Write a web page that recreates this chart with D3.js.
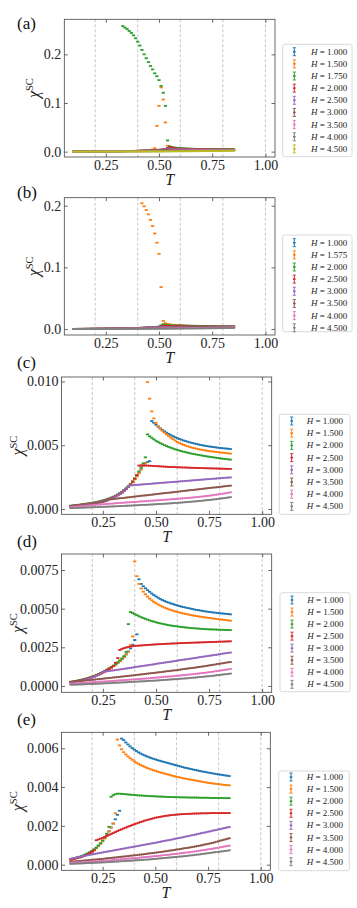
<!DOCTYPE html>
<html><head><meta charset="utf-8">
<script src="https://cdn.jsdelivr.net/npm/d3@7"></script>
<style>body{margin:0;background:#fff}svg{display:block}</style>
</head><body>
<svg id="fig" width="357" height="908"></svg>
<script>
// Temperature grid (shared by all panels)
const T = [0.10,0.11,0.12,0.13,0.14,0.15,0.16,0.17,0.18,0.19,
0.20,0.21,0.22,0.23,0.24,0.25,0.26,0.27,0.28,0.29,
0.30,0.31,0.32,0.33,0.34,0.35,0.36,0.37,0.38,0.39,
0.40,0.41,0.42,0.43,0.44,0.45,0.46,0.47,0.48,0.49,
0.50,0.51,0.52,0.53,0.54,0.55,0.56,0.57,0.58,0.59,
0.60,0.61,0.62,0.63,0.64,0.65,0.66,0.67,0.68,0.69,
0.70,0.71,0.72,0.73,0.74,0.75,0.76,0.77,0.78,0.79,
0.80,0.81,0.82,0.83,0.84,0.85];
// all chi^SC values below are given in units of 1e-4
const UNIT = 1e-4;
const COLORS = ["#1f77b4","#ff7f0e","#2ca02c","#d62728","#9467bd","#8c564b","#e377c2","#7f7f7f","#bcbd22"];
const X_TICKS = [0.25,0.50,0.75,1.00];
const GUIDE_T = [0.2,0.4,0.6,0.8,1.0];

// ---------- panel (a) ----------
const A_H = ["1.000","1.500","1.750","2.000","2.500","3.000","3.500","4.000","4.500"];
const A_H100 = [2.0,2.2,2.4,2.6,2.8,3.0,3.2,3.4,3.7,3.9, 4.2,4.5,4.8,5.1,5.5,5.9,6.3,6.8,7.3,7.8, 8.4,9.0,9.7,10.4,11.2,12.0,12.9,13.9,15.0,16.2, 17.5,18.9,20.4,22.0,23.8,25.7,27.8,30.0,32.4,35.0, 37.8,40.8,44.0,47.5,75.0,72.0,69.5,67.3,65.3,63.6, 62.0,60.6,59.3,58.1,57.0,56.0,55.1,54.3,53.5,52.8, 52.1,51.5,50.9,50.4,49.9,49.4,49.0,48.6,48.2,47.8, 47.5,47.2,46.9,46.6,46.3,46.0];
const A_H150 = [1.9,2.1,2.3,2.5,2.7,2.9,3.1,3.3,3.6,3.8, 4.1,4.4,4.7,5.0,5.4,5.8,6.2,6.7,7.2,7.7, 8.3,8.9,9.6,10.3,11.1,11.9,12.8,13.8,14.9,16.1, 17.4,18.8,20.3,21.9,23.7,25.6,27.7,45.0,70.0,530, 940,1320,1070,600,120,95,85,78,73,69, 66,63.5,61.5,59.8,58.3,57.0,55.8,54.7,53.7,52.8, 52.0,51.2,50.5,49.8,49.2,48.6,48.1,47.6,47.1,46.7, 46.3,45.9,45.6,45.2,44.9,44.6];
const A_H175 = [1.8,2.0,2.2,2.4,2.6,2.8,3.0,3.2,3.5,3.7, 4.0,4.3,4.6,4.9,5.3,5.7,6.1,6.6,7.1,7.6, 8.2,8.8,9.5,2580,2550,2520,2480,2440,2390,2330, 2260,2180,2090,2000,1920,1840,1760,1690,1610,1550, 1470,1350,1210,940,230,110,95,88,82,77, 73,70,67,65,63,61,59.5,58,56.8,55.6, 54.5,53.5,52.6,51.8,51.0,50.3,49.6,49.0,48.4,47.8, 47.3,46.8,46.3,45.9,45.5,45.1];
const A_H200 = [1.9,2.1,2.3,2.5,2.7,2.9,3.1,3.3,3.6,3.8, 4.1,4.4,4.7,5.0,5.4,5.8,6.2,6.7,7.2,7.7, 8.3,8.9,9.6,10.3,11.1,11.9,12.8,13.8,14.9,16.1, 17.4,18.8,20.3,21.9,23.7,25.6,27.7,30.0,32.5,35.2, 38.1,41.3,44.8,48.6,60.0,95.0,80.0,72.0,67.0,63.0, 60.0,57.5,55.5,53.8,52.3,51.0,49.9,48.9,48.0,47.2, 46.5,45.8,45.2,44.6,44.1,43.6,43.2,42.8,42.4,42.0, 41.7,41.4,41.1,40.8,40.5,40.2];
const A_H250 = [1.8,2.0,2.2,2.4,2.6,2.8,3.0,3.2,3.4,3.6, 3.9,4.2,4.5,4.8,5.2,5.6,6.0,6.4,6.9,7.4, 7.9,8.5,9.1,9.8,10.5,11.3,12.1,13.0,14.0,15.0, 16.1,17.3,18.6,20.0,21.5,23.1,24.8,26.7,28.7,30.9, 33.3,35.9,38.7,41.7,48.0,60.0,55.0,52.0,50.0,48.5, 47.2,46.1,45.1,44.3,43.5,42.8,42.2,41.6,41.1,40.6, 40.2,39.8,39.4,39.0,38.7,38.4,38.1,37.8,37.5,37.3, 37.0,36.8,36.6,36.4,36.2,36.0];
const A_H300 = [1.7,1.9,2.0,2.2,2.4,2.6,2.8,3.0,3.2,3.4, 3.6,3.9,4.2,4.5,4.8,5.1,5.5,5.9,6.3,6.7, 7.2,7.7,8.2,8.8,9.4,10.0,10.7,11.4,12.2,13.0, 13.9,14.8,15.8,16.9,18.0,19.2,20.5,21.9,23.4,25.0, 26.7,28.5,30.4,32.4,34.5,40.0,38.5,37.8,37.3,36.9, 36.6,36.4,36.2,36.0,35.9,35.8,35.7,35.6,35.5,35.5, 35.4,35.4,35.3,35.3,35.3,35.2,35.2,35.2,35.2,35.2, 35.1,35.1,35.1,35.1,35.1,35.1];
const A_H350 = [1.5,1.6,1.8,1.9,2.1,2.2,2.4,2.6,2.7,2.9, 3.1,3.3,3.5,3.7,3.9,4.2,4.4,4.7,4.9,5.2, 5.5,5.8,6.1,6.4,6.8,7.1,7.5,7.9,8.3,8.7, 9.1,9.6,10.0,10.5,11.0,11.5,12.1,12.7,13.3,13.9, 14.5,15.2,15.9,16.6,17.4,18.2,19.0,19.7,20.4,21.0, 21.6,22.2,22.8,23.3,23.8,24.3,24.8,25.3,25.7,26.1, 26.5,26.9,27.3,27.7,28.0,28.4,28.7,29.0,29.3,29.6, 29.9,30.2,30.5,30.8,31.0,31.3];
const A_H400 = [1.0,1.1,1.2,1.3,1.4,1.5,1.6,1.7,1.8,1.9, 2.0,2.1,2.3,2.4,2.5,2.7,2.8,3.0,3.1,3.3, 3.4,3.6,3.8,4.0,4.2,4.4,4.6,4.8,5.0,5.2, 5.5,5.7,6.0,6.2,6.5,6.8,7.1,7.4,7.7,8.0, 8.3,8.7,9.0,9.4,9.8,10.2,10.6,11.0,11.4,11.8, 12.3,12.7,13.2,13.6,14.1,14.6,15.1,15.6,16.1,16.6, 17.1,17.7,18.2,18.8,19.3,19.9,20.5,21.1,21.7,22.3, 22.9,23.5,24.1,24.7,25.3,25.9];
const A_H450 = [0.6,0.7,0.7,0.8,0.9,0.9,1.0,1.1,1.1,1.2, 1.3,1.3,1.4,1.5,1.6,1.7,1.7,1.8,1.9,2.0, 2.1,2.2,2.3,2.4,2.5,2.6,2.7,2.8,2.9,3.1, 3.2,3.3,3.5,3.6,3.8,3.9,4.1,4.2,4.4,4.6, 4.8,5.0,5.2,5.4,5.6,5.8,6.0,6.3,6.5,6.8, 7.0,7.3,7.6,7.9,8.2,8.5,8.8,9.2,9.5,9.9, 10.2,10.6,11.0,11.4,11.8,12.2,12.7,13.1,13.6,14.0, 14.5,15.0,15.5,16.0,16.6,17.1];

// ---------- panel (b) ----------
const B_H = ["1.000","1.575","2.000","2.500","3.000","3.500","4.000","4.500"];
const B_H100 = [2.0,2.2,2.4,2.6,2.8,3.0,3.2,3.4,3.7,3.9, 4.2,4.5,4.8,5.1,5.5,5.9,6.3,6.8,7.3,7.8, 8.4,9.0,9.7,10.4,11.2,12.0,12.9,13.9,15.0,16.2, 17.5,18.9,20.4,22.0,23.8,25.7,27.8,30.0,32.4,35.0, 37.8,40.8,72.0,69.5,67.3,65.3,63.6,62.0,60.6,59.3, 58.1,57.0,56.0,55.1,54.3,53.5,52.8,52.1,51.5,50.9, 50.4,49.9,49.4,49.0,48.6,48.2,47.8,47.5,47.2,46.9, 46.6,46.3,46.0,45.8,45.5,45.3];
const B_H1575 = [1.9,2.1,2.3,2.5,2.7,2.9,3.1,3.3,3.6,3.8, 4.1,4.4,4.7,5.0,5.4,5.8,6.2,6.7,7.2,7.7, 8.3,8.9,9.6,10.3,11.1,11.9,12.8,13.8,14.9,16.1, 17.4,18.8,2040,1990,1930,1860,1770,1670,1550,1400, 1220,680,130,95,82,75,70,66,63,60.5, 58.4,56.6,55.0,53.6,52.4,51.3,50.3,49.4,48.6,47.9, 47.2,46.6,46.0,45.5,45.0,44.6,44.2,43.8,43.4,43.1, 42.8,42.5,42.2,41.9,41.7,41.5];
const B_H200 = [2.1,2.3,2.5,2.7,2.9,3.1,3.3,3.5,3.8,4.0, 4.3,4.6,4.9,5.3,5.7,6.1,6.5,7.0,7.5,8.0, 8.6,9.2,9.9,10.6,11.4,12.3,13.2,14.2,15.3,16.5, 17.8,19.2,20.7,22.3,24.0,25.9,28.0,30.3,32.8,35.5, 38.5,60.0,75.0,70.0,66.0,63.0,60.5,58.5,56.8,55.3, 54.0,52.8,51.8,50.9,50.1,49.4,48.7,48.1,47.5,47.0, 46.5,46.0,45.6,45.2,44.8,44.4,44.1,43.8,43.5,43.2, 42.9,42.6,42.4,42.1,41.9,41.7];
const B_H250 = [2.0,2.2,2.4,2.6,2.8,3.0,3.2,3.4,3.6,3.9, 4.1,4.4,4.7,5.0,5.4,5.8,6.2,6.6,7.1,7.6, 8.1,8.7,9.3,10.0,10.7,11.5,12.3,13.2,14.1,15.1, 16.2,17.4,18.7,20.1,21.6,23.2,24.9,26.7,28.7,30.8, 33.0,45.0,55.0,52.0,50.0,48.5,47.3,46.3,45.4,44.6, 43.9,43.3,42.7,42.2,41.7,41.3,40.9,40.5,40.2,39.9, 39.6,39.3,39.1,38.8,38.6,38.4,38.2,38.0,37.8,37.6, 37.5,37.3,37.2,37.0,36.9,36.8];
const B_H300 = [1.8,2.0,2.2,2.4,2.6,2.8,3.0,3.2,3.4,3.6, 3.9,4.2,4.5,4.8,5.2,5.6,6.0,6.4,6.9,7.4, 7.9,8.5,9.1,9.8,10.5,11.3,12.1,13.0,14.0,15.0, 16.1,17.3,18.6,20.0,21.5,23.1,24.8,26.7,28.7,30.0, 30.5,31.0,31.4,31.8,32.1,32.4,32.7,33.0,33.2,33.4, 33.6,33.8,34.0,34.2,34.4,34.6,34.7,34.9,35.1,35.2, 35.4,35.5,35.7,35.8,36.0,36.1,36.3,36.4,36.5,36.7, 36.8,36.9,37.1,37.2,37.3,37.4];
const B_H350 = [1.7,1.9,2.0,2.2,2.4,2.6,2.8,3.0,3.2,3.4, 3.6,3.9,4.2,4.5,4.8,5.1,5.5,5.9,6.3,6.7, 7.2,7.7,8.2,8.8,9.4,10.0,10.7,11.4,12.2,13.0, 13.9,14.8,15.8,16.9,17.5,18.0,18.5,19.0,19.5,20.0, 20.5,21.0,21.5,22.0,22.5,23.0,23.5,24.0,24.5,25.0, 25.5,26.0,26.4,26.8,27.2,27.6,28.0,28.4,28.8,29.2, 29.6,30.0,30.4,30.8,31.2,31.6,32.0,32.4,32.8,33.2, 33.6,34.0,34.4,34.8,35.2,35.6];
const B_H400 = [1.3,1.4,1.5,1.7,1.8,1.9,2.0,2.2,2.3,2.4, 2.6,2.7,2.9,3.0,3.2,3.4,3.5,3.7,3.9,4.1, 4.3,4.5,4.7,4.9,5.1,5.3,5.6,5.8,6.0,6.3, 6.5,6.8,7.1,7.3,7.6,7.9,8.2,8.5,8.8,9.1, 9.5,9.8,10.2,10.5,10.9,11.3,11.7,12.1,12.5,12.9, 13.3,13.8,14.2,14.7,15.1,15.6,16.1,16.6,17.1,17.6, 18.1,18.7,19.2,19.8,20.3,20.9,21.5,22.1,22.7,23.3, 23.9,24.5,25.2,25.8,26.5,27.1];
const B_H450 = [0.7,0.8,0.8,0.9,1.0,1.0,1.1,1.2,1.2,1.3, 1.4,1.5,1.5,1.6,1.7,1.8,1.9,2.0,2.1,2.2, 2.3,2.4,2.5,2.6,2.7,2.9,3.0,3.1,3.2,3.4, 3.5,3.7,3.8,4.0,4.1,4.3,4.5,4.6,4.8,5.0, 5.2,5.4,5.6,5.8,6.0,6.2,6.5,6.7,6.9,7.2, 7.4,7.7,8.0,8.2,8.5,8.8,9.1,9.4,9.7,10.1, 10.4,10.8,11.1,11.5,11.9,12.3,12.7,13.1,13.5,13.9, 14.4,14.8,15.3,15.8,16.3,16.8];

// ---------- panel (c) ----------
const C_H = ["1.000","1.500","2.000","2.500","3.000","3.500","4.000","4.500"];
const C_H100 = [2.4,2.6,2.8,3.0,3.2,3.4,3.6,3.8,4.1,4.3, 4.6,4.9,5.2,5.6,6.0,6.4,6.9,7.4,8.0,8.7, 9.4,10.2,11.1,12.1,13.2,14.5,15.9,17.5,19.3,21.3, 23.5,25.9,28.5,31.2,33.9,35.8,36.8,37.5,69.0,67.6, 66.0,64.5,63.2,62.0,60.9,59.8,58.8,57.9,57.1,56.3, 55.6,54.9,54.3,53.7,53.2,52.7,52.2,51.8,51.4,51.0, 50.6,50.2,49.9,49.6,49.3,49.0,48.8,48.5,48.3,48.1, 47.9,47.7,47.5,47.4,47.2,47.0];
const C_H150 = [2.1,2.3,2.5,2.7,2.9,3.1,3.3,3.5,3.8,4.0, 4.3,4.6,4.9,5.3,5.7,6.1,6.6,7.1,7.7,8.4, 9.1,9.9,10.8,11.8,12.9,14.1,15.5,17.1,18.9,20.9, 23.1,25.5,28.1,30.8,33.6,36.0,99.5,86.5,76.5,71.0, 67.5,65.0,63.0,61.3,59.8,58.4,57.1,55.9,54.8,53.7, 52.6,51.8,51.0,50.3,49.7,49.1,48.6,48.1,47.7,47.3, 46.9,46.6,46.3,46.0,45.7,45.4,45.2,45.0,44.8,44.6, 44.4,44.2,44.0,43.8,43.6,43.4];
const C_H200 = [2.6,2.8,3.0,3.2,3.4,3.6,3.8,4.1,4.3,4.6, 4.9,5.2,5.5,5.9,6.3,6.7,7.2,7.7,8.3,9.0, 9.7,10.5,11.4,12.4,13.5,14.8,16.2,17.8,19.6,21.7, 24.0,26.6,29.5,32.6,35.8,40.5,58.5,57.0,55.8,54.6, 53.5,52.5,51.6,50.8,50.0,49.3,48.6,48.0,47.4,46.8, 46.3,45.8,45.3,44.9,44.5,44.1,43.7,43.3,43.0,42.7, 42.4,42.1,41.8,41.5,41.2,41.0,40.7,40.5,40.2,40.0, 39.8,39.5,39.3,39.1,38.9,38.7];
const C_H250 = [2.3,2.5,2.7,2.9,3.1,3.3,3.5,3.7,4.0,4.2, 4.5,4.8,5.1,5.5,5.9,6.3,6.8,7.3,7.9,8.6, 9.3,10.1,11.0,12.0,13.1,14.4,15.8,17.4,19.2,21.3, 23.7,26.5,34.0,34.2,34.2,34.1,34.0,33.9,33.8,33.7, 33.6,33.5,33.4,33.3,33.2,33.1,33.0,32.9,32.9,32.8, 32.7,32.7,32.6,32.5,32.5,32.4,32.3,32.3,32.2,32.2, 32.1,32.1,32.0,32.0,31.9,31.9,31.8,31.8,31.7,31.7, 31.6,31.6,31.5,31.5,31.4,31.4];
const C_H300 = [2.0,2.2,2.4,2.6,2.8,3.0,3.2,3.4,3.6,3.9, 4.2,4.5,4.8,5.2,5.6,6.0,6.5,7.0,7.6,8.2, 8.9,9.7,10.6,11.6,12.7,14.0,15.5,17.4,18.4,18.6, 18.7,18.9,19.0,19.1,19.3,19.4,19.5,19.7,19.8,20.0, 20.1,20.2,20.4,20.5,20.6,20.8,20.9,21.0,21.2,21.3, 21.4,21.6,21.7,21.8,22.0,22.1,22.2,22.4,22.5,22.6, 22.8,22.9,23.0,23.2,23.3,23.4,23.6,23.7,23.8,24.0, 24.1,24.2,24.4,24.5,24.6,24.7];
const C_H350 = [1.7,1.9,2.1,2.3,2.5,2.7,2.9,3.1,3.3,3.5, 3.8,4.1,4.4,4.7,5.1,5.5,6.0,6.6,7.4,7.6, 7.8,8.0,8.2,8.4,8.5,8.7,8.9,9.1,9.3,9.5, 9.7,9.9,10.1,10.3,10.5,10.6,10.8,11.0,11.2,11.4, 11.6,11.8,12.0,12.2,12.4,12.6,12.7,12.9,13.1,13.3, 13.5,13.7,13.9,14.1,14.3,14.5,14.7,14.8,15.0,15.2, 15.4,15.6,15.8,16.0,16.2,16.4,16.6,16.8,16.9,17.1, 17.3,17.5,17.7,17.9,18.1,18.3];
const C_H400 = [1.4,1.5,1.7,1.8,2.0,2.2,2.3,2.5,2.6,2.8, 3.0,3.1,3.3,3.4,3.6,3.7,3.8,4.0,4.1,4.2, 4.3,4.5,4.6,4.7,4.8,4.9,5.1,5.2,5.3,5.4, 5.5,5.6,5.8,5.9,6.0,6.1,6.2,6.4,6.5,6.6, 6.7,6.8,7.0,7.1,7.2,7.3,7.4,7.6,7.7,7.8, 7.9,8.1,8.2,8.4,8.5,8.6,8.8,8.9,9.1,9.3, 9.4,9.6,9.8,10.0,10.2,10.4,10.6,10.8,11.1,11.3, 11.6,11.8,12.1,12.4,12.7,13.0];
const C_H450 = [0.6,0.7,0.8,0.8,0.9,1.0,1.0,1.1,1.2,1.2, 1.3,1.4,1.4,1.5,1.6,1.7,1.7,1.8,1.9,1.9, 2.0,2.1,2.2,2.2,2.3,2.4,2.5,2.6,2.6,2.7, 2.8,2.9,3.0,3.1,3.2,3.2,3.3,3.4,3.5,3.6, 3.7,3.8,3.9,4.0,4.1,4.2,4.3,4.4,4.6,4.7, 4.8,4.9,5.0,5.2,5.3,5.4,5.6,5.7,5.9,6.0, 6.2,6.3,6.5,6.7,6.9,7.0,7.2,7.4,7.6,7.8, 8.0,8.3,8.5,8.7,9.0,9.2];

// ---------- panel (d) ----------
const D_H = ["1.000","1.500","2.000","2.500","3.000","3.500","4.000","4.500"];
const D_H100 = [2.4,2.7,3.0,3.3,3.6,3.9,4.2,4.6,5.0,5.4, 5.9,6.4,7.0,7.6,8.2,8.9,9.6,10.4,11.2,12.0, 12.9,13.9,15.0,16.2,17.5,18.9,20.5,22.3,24.3,26.7, 29.7,33.4,69.0,66.0,64.5,63.2,62.0,60.9,59.8,58.8, 57.9,57.1,56.3,55.6,55.0,54.4,53.9,53.4,53.0,52.5, 52.1,51.7,51.3,51.0,50.7,50.4,50.1,49.8,49.5,49.2, 49.0,48.8,48.5,48.3,48.1,47.9,47.7,47.5,47.4,47.2, 47.1,46.9,46.8,46.6,46.5,46.3];
const D_H150 = [2.2,2.5,2.8,3.1,3.4,3.7,4.0,4.4,4.8,5.2, 5.7,6.2,6.8,7.4,8.0,8.7,9.4,10.2,11.0,11.8, 12.7,13.7,14.8,16.0,17.3,18.7,20.3,22.2,26.5,32.0, 80.5,71.0,66.0,63.0,61.0,59.3,57.8,56.5,55.4,54.4, 53.5,52.7,52.0,51.3,50.7,50.1,49.6,49.1,48.7,48.3, 47.9,47.5,47.2,46.9,46.6,46.3,46.0,45.7,45.5,45.2, 45.0,44.8,44.6,44.4,44.2,44.0,43.8,43.6,43.4,43.3, 43.1,42.9,42.8,42.6,42.4,42.2];
const D_H200 = [2.6,2.9,3.2,3.5,3.8,4.1,4.4,4.8,5.2,5.6, 6.1,6.6,7.2,7.8,8.4,9.1,9.8,10.6,11.4,12.3, 13.2,14.2,15.3,16.5,17.8,19.3,22.0,40.0,47.8,47.2, 46.5,45.8,45.1,44.5,43.9,43.4,42.9,42.4,42.0,41.6, 41.2,40.8,40.5,40.2,39.9,39.6,39.3,39.1,38.9,38.7, 38.5,38.3,38.1,38.0,37.8,37.7,37.5,37.4,37.3,37.2, 37.1,37.0,36.9,36.8,36.7,36.6,36.6,36.5,36.5,36.4, 36.4,36.3,36.3,36.2,36.2,36.1];
const D_H250 = [2.3,2.6,2.9,3.2,3.5,3.8,4.1,4.5,4.9,5.3, 5.8,6.3,6.9,7.5,8.1,8.8,9.5,10.3,11.1,12.0, 13.0,15.0,18.0,23.3,24.0,24.5,24.9,25.2,25.5,25.7, 25.9,26.0,26.1,26.2,26.3,26.4,26.5,26.6,26.7,26.8, 26.9,27.0,27.0,27.1,27.2,27.3,27.3,27.4,27.5,27.5, 27.6,27.7,27.7,27.8,27.8,27.9,27.9,28.0,28.0,28.1, 28.1,28.2,28.2,28.3,28.3,28.4,28.4,28.5,28.5,28.6, 28.6,28.7,28.7,28.8,28.8,28.9];
const D_H300 = [2.0,2.3,2.6,2.9,3.2,3.5,3.8,4.2,4.6,5.0, 5.4,5.9,6.5,7.2,8.1,9.1,9.3,9.5,9.7,9.9, 10.1,10.3,10.5,10.7,10.9,11.1,11.3,11.5,11.7,11.9, 12.2,12.4,12.6,12.8,13.0,13.2,13.4,13.6,13.8,14.0, 14.3,14.5,14.7,14.9,15.1,15.3,15.5,15.7,15.9,16.1, 16.4,16.6,16.8,17.0,17.2,17.4,17.6,17.8,18.0,18.2, 18.5,18.7,18.9,19.1,19.3,19.5,19.7,19.9,20.1,20.3, 20.6,20.8,21.0,21.2,21.4,21.6];
const D_H350 = [2.8,2.9,3.0,3.1,3.2,3.3,3.4,3.6,3.7,3.8, 4.0,4.1,4.3,4.4,4.6,4.7,4.9,5.0,5.2,5.3, 5.5,5.6,5.8,5.9,6.1,6.2,6.4,6.5,6.7,6.8, 7.0,7.2,7.3,7.5,7.6,7.8,8.0,8.1,8.3,8.4, 8.6,8.8,8.9,9.1,9.3,9.5,9.6,9.8,10.0,10.1, 10.3,10.5,10.7,10.9,11.1,11.3,11.5,11.6,11.8,12.0, 12.2,12.4,12.6,12.8,13.0,13.3,13.5,13.7,13.9,14.2, 14.4,14.6,14.8,15.1,15.3,15.5];
const D_H400 = [1.5,1.6,1.7,1.8,1.9,1.9,2.0,2.1,2.2,2.3, 2.4,2.5,2.6,2.7,2.8,2.8,2.9,3.0,3.1,3.2, 3.3,3.4,3.5,3.6,3.7,3.8,3.9,4.0,4.1,4.2, 4.3,4.4,4.5,4.6,4.7,4.8,4.9,5.0,5.2,5.3, 5.4,5.5,5.6,5.7,5.9,6.0,6.1,6.2,6.3,6.5, 6.6,6.7,6.9,7.0,7.1,7.3,7.4,7.6,7.7,7.9, 8.0,8.2,8.4,8.5,8.7,8.9,9.1,9.3,9.5,9.7, 9.9,10.1,10.3,10.5,10.8,11.0];
const D_H450 = [0.8,0.8,0.9,0.9,1.0,1.0,1.1,1.1,1.2,1.2, 1.3,1.4,1.4,1.5,1.6,1.6,1.7,1.8,1.8,1.9, 2.0,2.1,2.1,2.2,2.3,2.3,2.4,2.5,2.6,2.6, 2.7,2.8,2.9,3.0,3.0,3.1,3.2,3.3,3.4,3.4, 3.5,3.6,3.7,3.8,3.9,4.0,4.1,4.2,4.3,4.4, 4.5,4.6,4.7,4.8,4.9,5.0,5.2,5.3,5.4,5.5, 5.7,5.8,5.9,6.1,6.2,6.3,6.5,6.6,6.8,7.0, 7.2,7.3,7.5,7.6,7.8,8.0];

// ---------- panel (e) ----------
const E_H = ["1.000","1.500","2.000","2.500","3.000","3.500","4.000","4.500"];
const E_H100 = [2.8,3.1,3.4,3.7,4.0,4.3,4.7,5.2,5.7,6.3, 6.9,7.7,8.6,9.7,10.9,12.2,13.7,15.4,17.2,19.2, 21.2,23.4,25.7,27.8,65.0,64.2,63.0,62.0,61.0,60.1, 59.3,58.6,57.9,57.3,56.8,56.3,55.8,55.4,55.0,54.6, 54.3,53.9,53.6,53.3,53.0,52.7,52.4,52.1,51.8,51.5, 51.2,50.9,50.6,50.3,50.0,49.8,49.5,49.3,49.0,48.8, 48.6,48.3,48.1,47.9,47.7,47.5,47.3,47.1,46.9,46.7, 46.5,46.4,46.2,46.0,45.9,45.7];
const E_H150 = [2.6,2.9,3.2,3.5,3.8,4.1,4.5,5.0,5.5,6.1, 6.7,7.5,8.4,9.5,10.7,12.0,13.5,15.2,17.1,19.1, 21.2,26.5,64.5,61.5,59.5,58.0,56.8,55.8,54.9,54.1, 53.3,52.6,52.0,51.4,50.9,50.4,49.9,49.5,49.1,48.7, 48.4,48.0,47.7,47.4,47.1,46.8,46.5,46.2,45.9,45.6, 45.3,45.1,44.9,44.6,44.4,44.2,44.0,43.8,43.6,43.4, 43.2,43.0,42.8,42.6,42.4,42.2,42.1,41.9,41.8,41.6, 41.5,41.4,41.2,41.1,41.0,40.9];
const E_H200 = [2.9,3.2,3.5,3.8,4.1,4.4,4.8,5.3,5.8,6.4, 7.1,7.9,8.8,9.9,11.1,12.5,14.1,16.0,19.5,35.0, 35.8,36.3,36.6,36.6,36.5,36.4,36.3,36.2,36.1,36.0, 35.9,35.8,35.7,35.7,35.6,35.5,35.5,35.4,35.3,35.3, 35.2,35.2,35.1,35.1,35.0,35.0,34.9,34.9,34.9,34.8, 34.8,34.8,34.7,34.7,34.7,34.7,34.6,34.6,34.6,34.6, 34.6,34.5,34.5,34.5,34.5,34.5,34.4,34.4,34.4,34.4, 34.4,34.4,34.3,34.3,34.3,34.3];
const E_H250 = [2.5,2.8,3.1,3.4,3.7,4.0,4.4,4.9,5.4,6.0, 6.6,7.4,12.6,13.0,13.4,13.8,14.3,14.8,15.3,15.8, 16.3,16.8,17.3,17.8,18.2,18.7,19.1,19.6,20.0,20.4, 20.8,21.2,21.6,22.0,22.3,22.7,23.0,23.3,23.6,23.9, 24.2,24.4,24.6,24.8,25.0,25.2,25.3,25.5,25.6,25.7, 25.8,25.9,26.0,26.1,26.1,26.2,26.2,26.3,26.3,26.4, 26.4,26.4,26.5,26.5,26.5,26.5,26.6,26.6,26.6,26.6, 26.6,26.6,26.6,26.6,26.6,26.6];
const E_H300 = [3.0,3.3,3.5,3.8,4.0,4.3,4.5,4.7,4.9,5.1, 5.3,5.5,5.7,5.9,6.1,6.3,6.5,6.7,6.9,7.1, 7.3,7.5,7.7,7.9,8.1,8.3,8.5,8.7,8.9,9.1, 9.3,9.5,9.7,9.9,10.1,10.3,10.5,10.7,10.9,11.1, 11.3,11.5,11.7,12.0,12.2,12.4,12.6,12.8,13.0,13.3, 13.5,13.7,13.9,14.1,14.4,14.6,14.8,15.1,15.3,15.5, 15.8,16.0,16.3,16.5,16.7,17.0,17.2,17.5,17.7,17.9, 18.2,18.4,18.7,18.9,19.2,19.4];
const E_H350 = [1.5,1.6,1.7,1.8,1.9,2.0,2.1,2.2,2.3,2.4, 2.5,2.6,2.7,2.8,2.9,3.0,3.1,3.3,3.4,3.5, 3.6,3.7,3.8,4.0,4.1,4.2,4.3,4.4,4.6,4.7, 4.8,4.9,5.1,5.2,5.3,5.5,5.6,5.8,5.9,6.0, 6.2,6.3,6.5,6.6,6.8,6.9,7.1,7.3,7.4,7.6, 7.8,7.9,8.1,8.3,8.5,8.6,8.8,9.0,9.2,9.4, 9.6,9.8,10.0,10.3,10.5,10.7,11.0,11.2,11.5,11.8, 12.1,12.4,12.7,13.0,13.3,13.6];
const E_H400 = [1.0,1.1,1.1,1.2,1.2,1.3,1.4,1.4,1.5,1.5, 1.6,1.7,1.8,1.8,1.9,2.0,2.1,2.2,2.2,2.3, 2.4,2.5,2.6,2.7,2.8,2.9,3.0,3.1,3.2,3.3, 3.3,3.4,3.5,3.7,3.8,3.9,4.0,4.1,4.2,4.3, 4.4,4.5,4.6,4.8,4.9,5.0,5.1,5.2,5.4,5.5, 5.6,5.7,5.9,6.0,6.2,6.3,6.4,6.6,6.7,6.9, 7.0,7.2,7.4,7.5,7.7,7.9,8.1,8.2,8.4,8.6, 8.8,9.0,9.2,9.4,9.6,9.8];
const E_H450 = [0.4,0.5,0.5,0.6,0.6,0.7,0.7,0.8,0.8,0.9, 0.9,1.0,1.0,1.1,1.1,1.2,1.2,1.3,1.4,1.4, 1.5,1.6,1.6,1.7,1.8,1.8,1.9,2.0,2.0,2.1, 2.2,2.3,2.3,2.4,2.5,2.6,2.6,2.7,2.8,2.9, 3.0,3.1,3.2,3.3,3.4,3.5,3.6,3.7,3.8,3.9, 4.0,4.1,4.2,4.3,4.4,4.5,4.7,4.8,4.9,5.1, 5.2,5.3,5.5,5.6,5.8,5.9,6.1,6.2,6.4,6.5, 6.6,6.8,6.9,7.1,7.2,7.4];

// ---------- layout ----------
const FONT = "'Liberation Serif','DejaVu Serif',serif";
const panels = [
  {tag:"(a)", tagY:29, H:A_H, series:[A_H100,A_H150,A_H175,A_H200,A_H250,A_H300,A_H350,A_H400,A_H450],
   yDom:[-0.011,0.272], yTicks:[0,0.1,0.2], fmt:".1f", box:{l:64.3,r:275,t:19.3,b:157}, ylabX:39,
   leg:{x:282.7,w:69.3,y:44.3,h:112.4,first:51.7,step:12.15,mx:294.3,tx:311}},
  {tag:"(b)", tagY:198, H:B_H, series:[B_H100,B_H1575,B_H200,B_H250,B_H300,B_H350,B_H400,B_H450],
   yDom:[-0.0097,0.213], yTicks:[0,0.1,0.2], fmt:".1f", box:{l:64.3,r:275,t:197.7,b:335}, ylabX:39,
   leg:{x:282.7,w:69.3,y:235,h:96.7,first:242.7,step:12.15,mx:294.3,tx:311}},
  {tag:"(c)", tagY:368, H:C_H, series:[C_H100,C_H150,C_H200,C_H250,C_H300,C_H350,C_H400,C_H450],
   yDom:[-0.00042,0.01035], yTicks:[0,0.005,0.010], fmt:".3f", box:{l:61.5,r:271.7,t:377,b:514.3}, ylabX:23,
   leg:{x:279.3,w:70.7,y:414.3,h:100,first:421,step:12.2,mx:291.7,tx:306.7}},
  {tag:"(d)", tagY:547, H:D_H, series:[D_H100,D_H150,D_H200,D_H250,D_H300,D_H350,D_H400,D_H450],
   yDom:[-0.00041,0.008535], yTicks:[0,0.0025,0.005,0.0075], fmt:".4f", box:{l:61.5,r:271.7,t:554,b:692.3}, ylabX:23,
   leg:{x:280,w:70,y:592.7,h:99,first:600,step:12.05,mx:292,tx:307.3}},
  {tag:"(e)", tagY:725, H:E_H, series:[E_H100,E_H150,E_H200,E_H250,E_H300,E_H350,E_H400,E_H450],
   yDom:[-0.00029,0.006825], yTicks:[0,0.002,0.004,0.006], fmt:".3f", box:{l:61.5,r:270.3,t:732.3,b:870.3}, ylabX:23,
   leg:{x:278.7,w:70.6,y:771,h:99.7,first:777,step:12.1,mx:291,tx:306.7}}
];

const svg = d3.select("#fig");
svg.append("rect").attr("width",357).attr("height",908).attr("fill","#fff");

panels.forEach((p, pi) => {
  const g = svg.append("g");
  const b = p.box;
  const x = d3.scaleLinear().domain([0.055, 1.045]).range([b.l, b.r]);
  const y = d3.scaleLinear().domain(p.yDom).range([b.b, b.t]);

  const cid = "clip" + pi;
  g.append("clipPath").attr("id", cid).append("rect")
    .attr("x", b.l).attr("y", b.t).attr("width", b.r - b.l).attr("height", b.b - b.t);

  // guide lines
  g.append("g").selectAll("line").data(GUIDE_T).join("line")
    .attr("x1", d => x(d)).attr("x2", d => x(d)).attr("y1", b.t).attr("y2", b.b)
    .attr("stroke", "#b8b8b8").attr("stroke-width", 0.8).attr("stroke-dasharray", "3,2");

  // data (error-bar style markers)
  const dg = g.append("g").attr("clip-path", `url(#${cid})`);
  p.series.forEach((arr, k) => {
    const pts = T.map((t, i) => [t, arr[i]]).filter(d => d[1] != null && isFinite(d[1]));
    dg.append("g").selectAll("rect").data(pts).join("rect")
      .attr("x", d => x(d[0]) - 1.6).attr("y", d => y(d[1] * UNIT) - 0.9)
      .attr("width", 3.2).attr("height", 1.8)
      .attr("fill", COLORS[k]);
  });

  // axes
  const axB = d3.axisBottom(x).tickValues(X_TICKS).tickFormat(d3.format(".2f")).tickSizeInner(-3.5).tickSizeOuter(0).tickPadding(3);
  const axT = d3.axisTop(x).tickValues(X_TICKS).tickFormat("").tickSizeInner(-3.5).tickSizeOuter(0);
  const axL = d3.axisLeft(y).tickValues(p.yTicks).tickFormat(d3.format(p.fmt)).tickSizeInner(-3.5).tickSizeOuter(0).tickPadding(3);
  const axR = d3.axisRight(y).tickValues(p.yTicks).tickFormat("").tickSizeInner(-3.5).tickSizeOuter(0);
  const gb = g.append("g").attr("transform", `translate(0,${b.b})`).call(axB);
  const gt = g.append("g").attr("transform", `translate(0,${b.t})`).call(axT);
  const gl = g.append("g").attr("transform", `translate(${b.l},0)`).call(axL);
  const gr = g.append("g").attr("transform", `translate(${b.r},0)`).call(axR);
  [gb, gt, gl, gr].forEach(a => {
    a.select(".domain").remove();
    a.selectAll(".tick line").attr("stroke", "#444").attr("stroke-width", 0.8);
    a.selectAll(".tick text").attr("fill", "#222").style("font-family", FONT).style("font-size", "14px");
  });

  // frame
  g.append("rect").attr("x", b.l).attr("y", b.t).attr("width", b.r - b.l).attr("height", b.b - b.t)
    .attr("fill", "none").attr("stroke", "#444").attr("stroke-width", 0.8);

  // x label
  g.append("text").attr("x", (b.l + b.r) / 2).attr("y", b.b + 28).attr("text-anchor", "middle")
    .style("font-family", FONT).style("font-style", "italic").style("font-size", "16px").attr("fill", "#222").text("T");

  // y label
  const yl = g.append("text")
    .attr("transform", `translate(${p.ylabX},${(b.t + b.b) / 2}) rotate(-90)`)
    .attr("text-anchor", "middle").style("font-family", FONT).attr("fill", "#222");
  yl.append("tspan").style("font-style", "italic").style("font-size", "16px").text("χ");
  yl.append("tspan").attr("dy", -6).style("font-size", "10.5px").text("SC");

  // panel tag
  svg.append("text").attr("x", 17).attr("y", p.tagY).style("font-family", FONT).style("font-size", "17px")
    .attr("fill", "#111").text(p.tag);

  // legend
  const L = p.leg;
  const lg = g.append("g");
  lg.append("rect").attr("x", L.x).attr("y", L.y).attr("width", L.w).attr("height", L.h)
    .attr("rx", 2).attr("fill", "#fff").attr("stroke", "#d0d0d0").attr("stroke-width", 0.8);
  p.H.forEach((h, k) => {
    const ey = L.first + k * L.step;
    const c = COLORS[k];
    lg.append("line").attr("x1", L.mx).attr("x2", L.mx).attr("y1", ey - 4).attr("y2", ey + 4).attr("stroke", c).attr("stroke-width", 1);
    lg.append("line").attr("x1", L.mx - 1.6).attr("x2", L.mx + 1.6).attr("y1", ey - 4).attr("y2", ey - 4).attr("stroke", c).attr("stroke-width", 0.9);
    lg.append("line").attr("x1", L.mx - 1.6).attr("x2", L.mx + 1.6).attr("y1", ey + 4).attr("y2", ey + 4).attr("stroke", c).attr("stroke-width", 0.9);
    lg.append("rect").attr("x", L.mx - 1.3).attr("y", ey - 0.8).attr("width", 2.6).attr("height", 1.6).attr("fill", c);
    const t = lg.append("text").attr("x", L.tx).attr("y", ey + 3).style("font-family", FONT).style("font-size", "9px").attr("fill", "#222");
    t.append("tspan").style("font-style", "italic").text("H");
    t.append("tspan").text(" = " + h);
  });
});
</script>
</body></html>
